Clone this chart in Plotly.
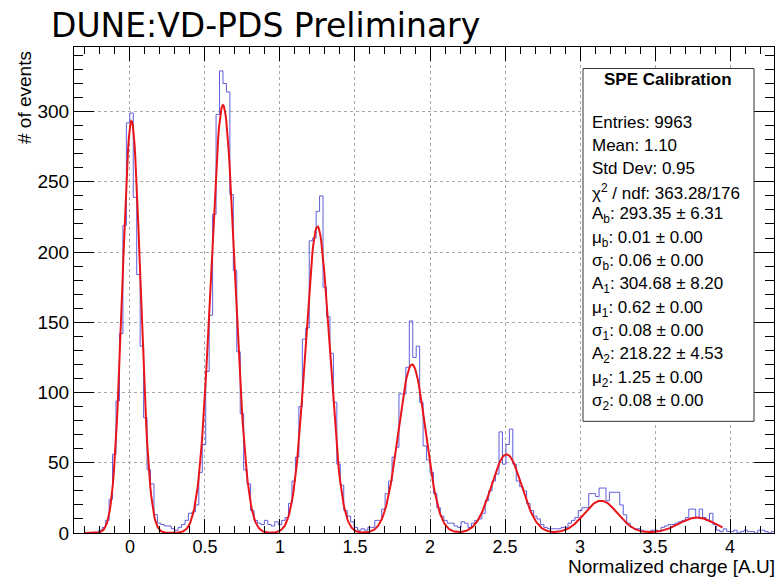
import numpy as np
import plotly.graph_objects as go

# ---------------- data ----------------
HIST_MIN = -0.3
BIN_WIDTH = 0.023
counts = [
    0, 0, 0, 0, 2, 4, 9, 24, 56, 94,
    142, 219, 292, 299, 239, 184, 133, 82, 45, 35,
    13, 7, 6, 5, 5, 3, 2, 4, 6, 9,
    14, 15, 20, 43, 63, 115, 155, 227, 298, 329,
    320, 314, 241, 187, 129, 85, 45, 35, 16, 9,
    7, 6, 9, 6, 5, 8, 6, 9, 11, 21,
    37, 54, 90, 138, 146, 208, 210, 229, 240, 175,
    154, 128, 93, 49, 34, 16, 12, 8, 4, 2,
    3, 2, 4, 4, 9, 9, 17, 28, 37, 54,
    61, 99, 99, 118, 151, 125, 133, 93, 62, 52,
    43, 28, 18, 12, 9, 7, 7, 5, 4, 8,
    7, 4, 7, 9, 10, 14, 23, 30, 37, 42,
    72, 49, 63, 74, 49, 37, 33, 30, 21, 16,
    12, 10, 6, 4, 3, 3, 3, 3, 4, 4,
    7, 9, 11, 16, 18, 18, 28, 28, 26, 32,
    32, 23, 29, 29, 29, 20, 13, 7, 4, 3,
    3, 2, 1, 1, 2, 2, 1, 4, 5, 6,
    6, 7, 8, 9, 11, 17, 17, 11, 17, 11,
    9, 14, 6, 2, 1, 3, 1, 1, 2, 0,
    1, 2, 1, 1, 0, 2, 2, 1, 0, 1,
]

# fit: sum of gaussians (amplitude, mean, sigma)
fit_amp = [293.35, 304.68, 218.22, 120.0, 56.0, 23.0, 11.0]
fit_mu = [0.01, 0.62, 1.25, 1.88, 2.51, 3.14, 3.78]
fit_sigma = [0.06, 0.08, 0.08, 0.09, 0.10, 0.11, 0.12]
FIT_RANGE = [-0.3, 3.95]

x_tick_vals = [0, 0.5, 1, 1.5, 2, 2.5, 3, 3.5, 4]
x_tick_text = ["0", "0.5", "1", "1.5", "2", "2.5", "3", "3.5", "4"]
y_tick_vals = [0, 50, 100, 150, 200, 250, 300]

stats_title = "SPE Calibration"
stats_lines = [
    "Entries: 9963",
    "Mean: 1.10",
    "Std Dev: 0.95",
    "\u03c7<sup>2</sup> / ndf: 363.28/176",
    "A<sub>b</sub>: 293.35 \u00b1 6.31",
    "\u03bc<sub>b</sub>: 0.01 \u00b1 0.00",
    "\u03c3<sub>b</sub>: 0.06 \u00b1 0.00",
    "A<sub>1</sub>: 304.68 \u00b1 8.20",
    "\u03bc<sub>1</sub>: 0.62 \u00b1 0.00",
    "\u03c3<sub>1</sub>: 0.08 \u00b1 0.00",
    "A<sub>2</sub>: 218.22 \u00b1 4.53",
    "\u03bc<sub>2</sub>: 1.25 \u00b1 0.00",
    "\u03c3<sub>2</sub>: 0.08 \u00b1 0.00",
]

# ---------------- build ----------------
n = len(counts)
edges = HIST_MIN + BIN_WIDTH * np.arange(n + 1)
step_y = list(counts) + [counts[-1]]

xf = np.linspace(FIT_RANGE[0], FIT_RANGE[1], 800)
yf = np.zeros_like(xf)
for a, m, s in zip(fit_amp, fit_mu, fit_sigma):
    yf += a * np.exp(-0.5 * ((xf - m) / s) ** 2)

W, H = 781, 577
L, R, T, B = 74, 774, 46.5, 532.7  # frame in pixels


def px(x):
    return (x - L) / (R - L)


def py(y):
    return (B - y) / (B - T)


fig = go.Figure()
fig.add_trace(go.Scatter(
    x=edges, y=step_y, mode="lines", line=dict(color="#5e5edc", width=1, shape="hv"),
    hoverinfo="skip", showlegend=False))
fig.add_trace(go.Scatter(
    x=xf, y=yf, mode="lines", line=dict(color="#e8141a", width=2),
    hoverinfo="skip", showlegend=False))

font_axis = "Liberation Sans, Arial, sans-serif"

fig.update_layout(
    width=W, height=H,
    margin=dict(l=L, r=W - R, t=T, b=H - B, autoexpand=False),
    paper_bgcolor="white", plot_bgcolor="white",
    font=dict(family=font_axis, size=19, color="black"),
    showlegend=False,
)
fig.update_xaxes(
    range=[-0.373, 4.293],
    tickmode="array", tickvals=x_tick_vals, ticktext=x_tick_text,
    ticks="inside", ticklen=14, tickwidth=1, tickcolor="black",
    minor=dict(tickmode="linear", tick0=0, dtick=0.1, ticks="inside", ticklen=7,
               tickcolor="black", showgrid=False),
    showline=True, linecolor="black", linewidth=1, mirror="ticks",
    showgrid=True, gridcolor="#a8a8a8", griddash="dot", gridwidth=1,
    zeroline=False, tickfont=dict(size=18), automargin=False,
    ticklabelstandoff=-3,
)
fig.update_yaxes(
    range=[0, 346],
    tickmode="array", tickvals=y_tick_vals,
    ticks="inside", ticklen=20, tickwidth=1, tickcolor="black",
    minor=dict(tickmode="linear", tick0=0, dtick=10, ticks="inside", ticklen=9,
               tickcolor="black", showgrid=False),
    showline=True, linecolor="black", linewidth=1, mirror="ticks",
    showgrid=True, gridcolor="#a8a8a8", griddash="dot", gridwidth=1,
    zeroline=False, tickfont=dict(size=19), automargin=False,
)

annotations = [
    dict(text="DUNE:VD-PDS Preliminary", xref="paper", yref="paper",
         x=px(49), y=py(25), xanchor="left", yanchor="middle", showarrow=False,
         font=dict(family="DejaVu Sans, sans-serif", size=33, color="black")),
    dict(text="# of events", xref="paper", yref="paper", x=px(25), y=py(48),
         xanchor="center", yanchor="top", textangle=-90, showarrow=False,
         font=dict(family=font_axis, size=19)),
    dict(text="Normalized charge [A.U]", xref="paper", yref="paper", x=px(777), y=py(579),
         xanchor="right", yanchor="bottom", showarrow=False,
         font=dict(family=font_axis, size=19)),
    dict(text="<b>" + stats_title + "</b>", xref="paper", yref="paper", x=px(668), y=py(79),
         xanchor="center", yanchor="middle", showarrow=False,
         font=dict(family=font_axis, size=17)),
]
line_y0, line_dy = 121.7, 23.33
for i, t in enumerate(stats_lines):
    annotations.append(dict(
        text=t, xref="paper", yref="paper", x=px(590), y=py(line_y0 + i * line_dy),
        xanchor="left", yanchor="middle", showarrow=False,
        font=dict(family=font_axis, size=17)))
fig.update_layout(annotations=annotations)

fig.add_shape(type="rect", xref="paper", yref="paper",
              x0=px(583), x1=px(754), y0=py(421), y1=py(68),
              fillcolor="white", line=dict(color="#333333", width=1), layer="above")

fig.write_html("out.html", config={"displayModeBar": False},
               post_script="document.body.style.margin='0px';")
